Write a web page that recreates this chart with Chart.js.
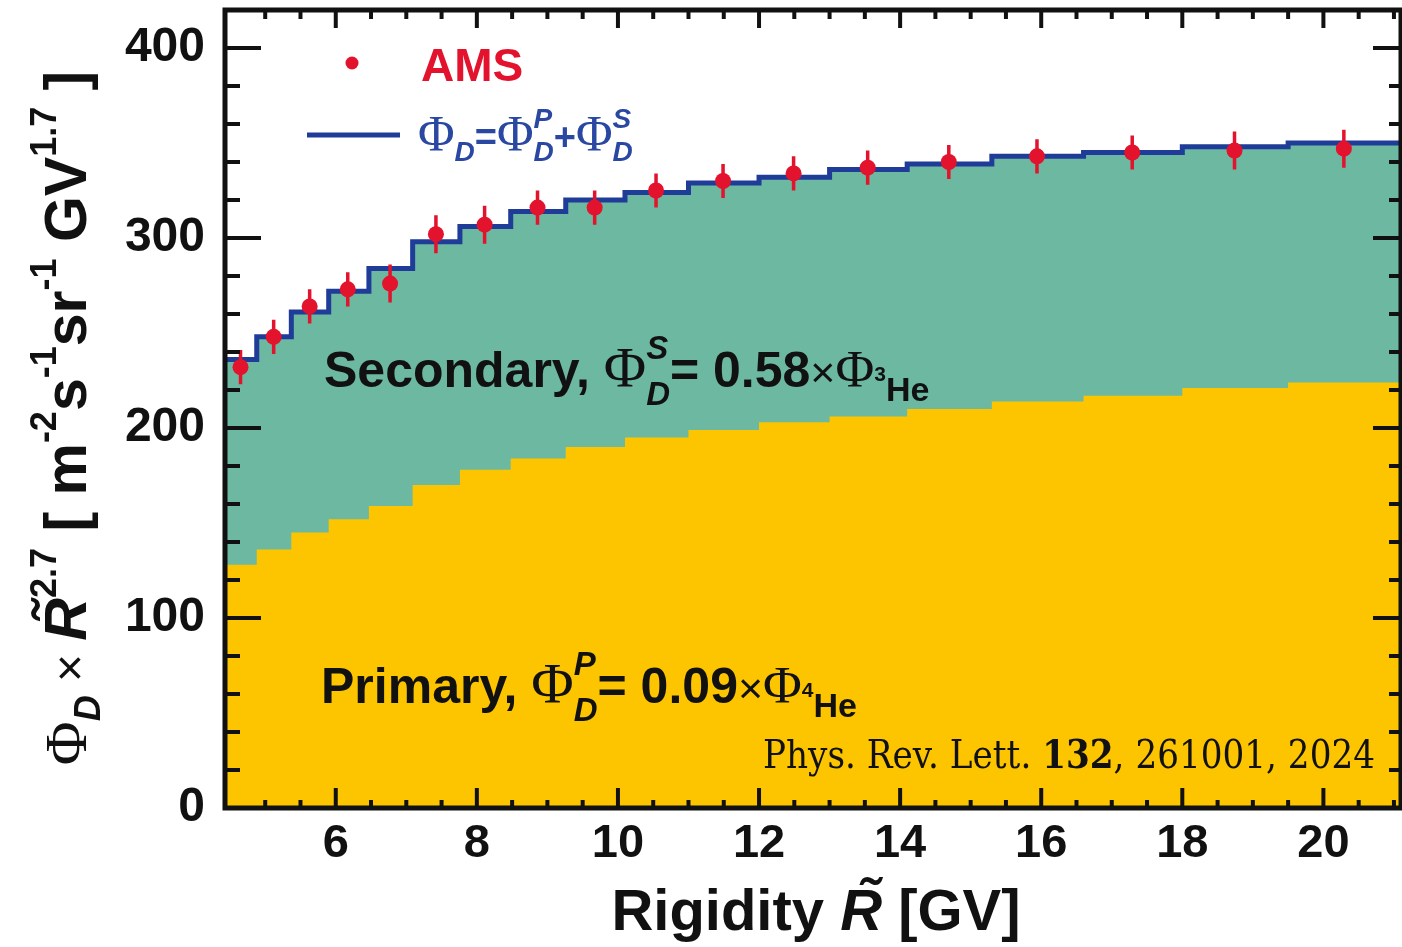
<!DOCTYPE html>
<html>
<head>
<meta charset="utf-8">
<script src="https://cdn.jsdelivr.net/npm/chart.js@4.4.1/dist/chart.umd.min.js"></script>
<style>
    html, body { margin: 0; padding: 0; background: #fff; }
    canvas { display: block; }
</style>
</head>
<body>
<canvas id="myChart" width="1402" height="947"></canvas>
<script>
// Rigidity bin edges [GV]
const binEdges = [4.43, 4.88, 5.37, 5.90, 6.47, 7.09, 7.76, 8.48, 9.26, 10.1, 11.0, 12.0, 13.0, 14.1, 15.3, 16.6, 18.0, 19.5, 21.1];
// Model per bin
const totalFlux = [236, 248, 261, 272, 284, 298, 306, 314, 320, 324, 329, 332, 336, 339, 343, 345, 348, 350];
const primaryFlux = [128, 136, 145, 152, 159, 170, 178, 184, 190, 195, 199, 203, 206, 210, 214, 217, 221, 224];
// AMS data points
const amsRigidity = [4.65, 5.12, 5.63, 6.17, 6.77, 7.42, 8.11, 8.86, 9.67, 10.54, 11.49, 12.49, 13.54, 14.69, 15.94, 17.29, 18.74, 20.29];
const amsFlux = [232, 248, 264, 273, 276, 302, 307, 316, 316, 325, 330, 334, 337, 340, 343, 345, 346, 347];
const amsError = [9, 9, 9, 9, 10, 10, 10, 9, 9, 9, 9, 9, 9, 9, 9, 9, 10, 10];
// Axis labels
const xTicks = [6, 8, 10, 12, 14, 16, 18, 20];
const yTicks = [0, 100, 200, 300, 400];

const SANS = '"Liberation Sans", Arial, Helvetica, sans-serif';
const SERIF = '"Liberation Serif", "Times New Roman", serif';
const DSERIF = '"DejaVu Serif", serif';
const f = (style, size, fam) => style + ' ' + size + 'px ' + fam;

const RED = '#e3122d';
const BLUE = '#1e3c98';
const GREEN = '#6db8a0';
const YELLOW = '#fdc500';
const INK = '#111111';

// histogram bins -> points for a stepped line (horizontal first)
function stepPoints(values) {
    let pts = values.map((v, i) => ({x: binEdges[i], y: v}));
    pts.push({x: binEdges[binEdges.length - 1], y: values[values.length - 1]});
    return pts;
}

// vertical error bars, broken by nulls
let errorBars = [];
amsRigidity.forEach((r, i) => {
    errorBars.push({x: r, y: amsFlux[i] - amsError[i]});
    errorBars.push({x: r, y: amsFlux[i] + amsError[i]});
    errorBars.push({x: r, y: null});
});

// draws a row of text pieces (sub/superscripts) and returns its width
function drawRuns(ctx, runs, x, y, dry) {
    let cx = x;
    for (const r of runs) {
        ctx.font = r.font;
        const w = ctx.measureText(r.t).width;
        if (!dry) {
            ctx.fillText(r.t, cx, y + (r.dy || 0));
            if (r.accent) {
                const aw = ctx.measureText(r.accent).width;
                ctx.fillText(r.accent, cx + (w - aw) / 2 + (r.accentDx || 0), y + (r.dy || 0) + r.accentDy);
            }
        }
        if (!r.hold) cx += w;
    }
    return cx - x;
}

const secondaryText = [
    {t: 'Secondary, ', font: f('bold', 50, SANS)},
    {t: 'Φ', font: f('', 58, SERIF)},
    {t: 'S', font: f('italic bold', 33, SANS), dy: -28, hold: true},
    {t: 'D', font: f('italic bold', 33, SANS), dy: 18},
    {t: '= 0.58', font: f('bold', 50, SANS)},
    {t: '×', font: f('', 43, SANS)},
    {t: 'Φ', font: f('', 53, SERIF)},
    {t: '3', font: f('bold', 21, SANS), dy: -6},
    {t: 'He', font: f('bold', 34, SANS), dy: 14}
];
const primaryText = [
    {t: 'Primary, ', font: f('bold', 50, SANS)},
    {t: 'Φ', font: f('', 58, SERIF)},
    {t: 'P', font: f('italic bold', 33, SANS), dy: -28, hold: true},
    {t: 'D', font: f('italic bold', 33, SANS), dy: 18},
    {t: '= 0.09', font: f('bold', 50, SANS)},
    {t: '×', font: f('', 43, SANS)},
    {t: 'Φ', font: f('', 53, SERIF)},
    {t: '4', font: f('bold', 21, SANS), dy: -6},
    {t: 'He', font: f('bold', 34, SANS), dy: 14}
];
const legendModel = [
    {t: 'Φ', font: f('', 50, SERIF)},
    {t: 'D', font: f('italic bold', 28, SANS), dy: 11},
    {t: '=', font: f('bold', 38, SANS)},
    {t: 'Φ', font: f('', 50, SERIF)},
    {t: 'P', font: f('italic bold', 28, SANS), dy: -22, hold: true},
    {t: 'D', font: f('italic bold', 28, SANS), dy: 11},
    {t: '+', font: f('bold', 38, SANS)},
    {t: 'Φ', font: f('', 50, SERIF)},
    {t: 'S', font: f('italic bold', 28, SANS), dy: -22, hold: true},
    {t: 'D', font: f('italic bold', 28, SANS), dy: 11}
];
const yTitle = [
    {t: 'Φ', font: f('', 60, SERIF)},
    {t: 'D', font: f('italic bold', 36, SANS), dy: 14},
    {t: ' × ', font: f('', 48, SANS)},
    {t: 'R', font: f('italic bold', 59, SANS), accent: '˜', accentDy: -12, accentDx: 6},
    {t: '2.7', font: f('bold', 36, SANS), dy: -30},
    {t: ' [ m', font: f('bold', 59, SANS)},
    {t: '-2', font: f('bold', 36, SANS), dy: -30},
    {t: 's', font: f('bold', 59, SANS)},
    {t: '-1', font: f('bold', 36, SANS), dy: -30},
    {t: 'sr', font: f('bold', 59, SANS)},
    {t: '-1', font: f('bold', 36, SANS), dy: -30},
    {t: ' GV', font: f('bold', 59, SANS)},
    {t: '1.7', font: f('bold', 36, SANS), dy: -30},
    {t: ' ]', font: f('bold', 59, SANS)}
];
const xTitle = [
    {t: 'Rigidity ', font: f('bold', 58, SANS)},
    {t: 'R', font: f('italic bold', 58, SANS), accent: '˜', accentDy: -12, accentDx: 6},
    {t: ' [GV]', font: f('bold', 58, SANS)}
];
const citation = [
    {t: 'Phys. Rev. Lett. ', font: f('', 39, DSERIF)},
    {t: '132', font: f('bold', 39, DSERIF)},
    {t: ', 261001, 2024', font: f('', 39, DSERIF)}
];

// inward ticks on all four sides plus the frame
const framePlugin = {
    id: 'frame',
    afterDraw(chart) {
        const {ctx, chartArea: a, scales: {x, y}} = chart;
        ctx.save();
        ctx.strokeStyle = INK;
        ctx.lineWidth = 4;
        const seg = (x1, y1, x2, y2) => {
            ctx.beginPath();
            ctx.moveTo(x1, y1);
            ctx.lineTo(x2, y2);
            ctx.stroke();
        };
        for (let v = 5.0; v <= x.max; v += 0.5) {
            const px = x.getPixelForValue(v);
            const major = xTicks.includes(v);
            seg(px, a.bottom, px, a.bottom - (major ? 20 : 8));
            seg(px, a.top, px, a.top + (major ? 18 : 9));
        }
        for (let v = 0; v <= y.max; v += 20) {
            const py = y.getPixelForValue(v);
            const major = v % 100 === 0;
            seg(a.left, py, a.left + (major ? 36 : 15), py);
            seg(a.right, py, a.right - (major ? 28 : 12), py);
        }
        ctx.lineWidth = 5;
        ctx.strokeRect(a.left, a.top, a.right - a.left, a.bottom - a.top);
        ctx.restore();
    }
};

// legend, annotations and axis titles
const textPlugin = {
    id: 'texts',
    afterDraw(chart) {
        const ctx = chart.ctx;
        ctx.save();
        ctx.textBaseline = 'alphabetic';
        ctx.textAlign = 'left';

        // legend
        ctx.fillStyle = RED;
        ctx.beginPath();
        ctx.arc(352, 63, 6.5, 0, Math.PI * 2);
        ctx.fill();
        ctx.font = f('bold', 46, SANS);
        ctx.fillText('AMS', 421, 81);
        ctx.strokeStyle = BLUE;
        ctx.lineWidth = 5;
        ctx.beginPath();
        ctx.moveTo(307, 135);
        ctx.lineTo(400, 135);
        ctx.stroke();
        ctx.fillStyle = '#2a48a2';
        drawRuns(ctx, legendModel, 418, 150);

        // annotations
        ctx.fillStyle = INK;
        drawRuns(ctx, secondaryText, 324, 387);
        drawRuns(ctx, primaryText, 321, 703);

        // citation, squeezed to its width in the reference
        let w = drawRuns(ctx, citation, 0, 0, true);
        ctx.save();
        ctx.translate(763, 768);
        ctx.scale(612 / w, 1);
        drawRuns(ctx, citation, 0, 0);
        ctx.restore();

        // x title
        w = drawRuns(ctx, xTitle, 0, 0, true);
        drawRuns(ctx, xTitle, 816 - w / 2, 930);

        // y title (rotated)
        w = drawRuns(ctx, yTitle, 0, 0, true);
        ctx.translate(86, 418 + w / 2);
        ctx.rotate(-Math.PI / 2);
        drawRuns(ctx, yTitle, 0, 0);
        ctx.restore();
    }
};

const ctx = document.getElementById('myChart').getContext('2d');

const myChart = new Chart(ctx, {
    type: 'line',
    data: {
        datasets: [{
            label: 'AMS',
            data: amsRigidity.map((r, i) => ({x: r, y: amsFlux[i]})),
            showLine: false,
            pointRadius: 8,
            pointBackgroundColor: RED,
            pointBorderWidth: 0
        }, {
            label: 'errors',
            data: errorBars,
            borderColor: RED,
            borderWidth: 3.5,
            pointRadius: 0,
            spanGaps: false
        }, {
            label: 'Primary',
            data: stepPoints(primaryFlux),
            stepped: 'before',
            borderWidth: 0,
            pointRadius: 0,
            fill: 'origin',
            backgroundColor: YELLOW
        }, {
            label: 'Total',
            data: stepPoints(totalFlux),
            stepped: 'before',
            borderColor: BLUE,
            borderWidth: 5,
            pointRadius: 0,
            fill: 'origin',
            backgroundColor: GREEN
        }]
    },
    options: {
        responsive: false,
        animation: false,
        layout: {
            autoPadding: false,
            padding: {top: 10, right: 1, left: 0, bottom: 0}
        },
        plugins: {
            legend: {display: false},
            tooltip: {enabled: false}
        },
        scales: {
            x: {
                type: 'linear',
                min: 4.43,
                max: 21.1,
                afterBuildTicks: (scale) => {
                    scale.ticks = xTicks.map(v => ({value: v}));
                },
                afterFit: (scale) => {
                    scale.height = 139;
                    scale.paddingLeft = 0;
                    scale.paddingRight = 0;
                },
                grid: {display: false, drawTicks: false},
                border: {display: false},
                ticks: {
                    autoSkip: false,
                    maxRotation: 0,
                    padding: 8,
                    color: INK,
                    font: {family: SANS, size: 47, weight: 'bold'}
                }
            },
            y: {
                min: 0,
                max: 420,
                afterBuildTicks: (scale) => {
                    scale.ticks = yTicks.map(v => ({value: v}));
                },
                afterFit: (scale) => {
                    scale.width = 225;
                    scale.paddingTop = 0;
                    scale.paddingBottom = 0;
                },
                grid: {display: false, drawTicks: false},
                border: {display: false},
                ticks: {
                    padding: 20,
                    color: INK,
                    font: {family: SANS, size: 48, weight: 'bold'}
                }
            }
        }
    },
    plugins: [framePlugin, textPlugin]
});
</script>
</body>
</html>
